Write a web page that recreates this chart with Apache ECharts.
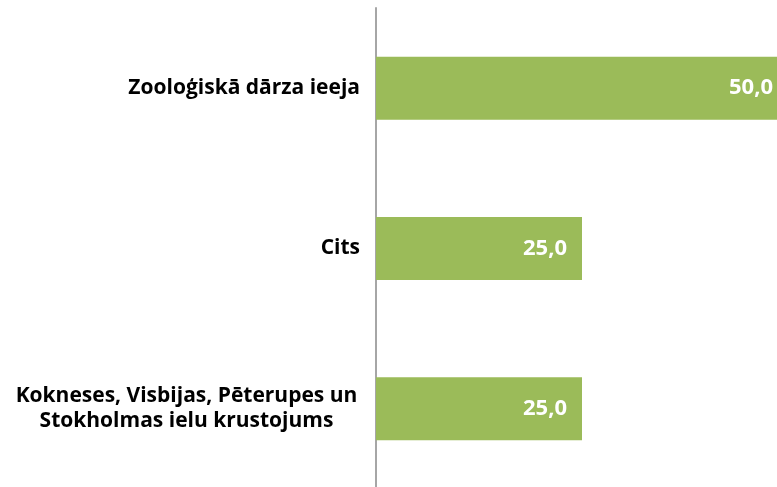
<html>
<head>
  <meta charset="utf-8" />
  <script src="https://cdn.jsdelivr.net/npm/echarts@6/dist/echarts.min.js"></script>
  <style>
    html, body { margin: 0; padding: 0; background: #fff; }
    #chart { width: 777px; height: 487px; }
  </style>
</head>
<body>
  <div id="chart"></div>
  <script>
    var categories = ['Zooloģiskā dārza ieeja', 'Cits', 'Kokneses, Visbijas, Pēterupes un\nStokholmas ielu krustojums'];
    var values = [50.0, 25.0, 25.0];

    var font = 'Open Sans';
    var chart = echarts.init(document.getElementById('chart'));

    var option = {
      animation: false,
      grid: { left: 376, width: 412, top: 8, height: 481, outerBoundsMode: 'none' },
      xAxis: {
        type: 'value',
        min: 0,
        max: 50,
        show: false
      },
      yAxis: {
        type: 'category',
        inverse: true,
        data: categories,
        axisLine: { show: true, lineStyle: { color: '#a6a6a6', width: 2 } },
        axisTick: { show: false },
        axisLabel: {
          margin: 16,
          fontFamily: font,
          fontWeight: 'bold',
          fontSize: 21,
          color: '#000',
          formatter: function (v) {
            if (v.indexOf('\n') >= 0) {
              return v.split('\n').map(function (s) { return '{c|' + s + '}'; }).join('\n');
            }
            return v;
          },
          rich: {
            c: {
              width: 347,
              align: 'center',
              fontFamily: font,
              fontWeight: 'bold',
              fontSize: 21,
              lineHeight: 25,
              color: '#000'
            }
          }
        }
      },
      series: [{
        type: 'bar',
        data: values,
        barWidth: 63,
        itemStyle: { color: '#9bbb59' },
        label: {
          show: true,
          position: 'insideRight',
          distance: 15,
          color: '#fff',
          fontFamily: font,
          fontWeight: 'bold',
          fontSize: 22,
          formatter: function (p) { return p.value.toFixed(1).replace('.', ','); }
        }
      }]
    };
    chart.setOption(option);
  </script>
</body>
</html>
